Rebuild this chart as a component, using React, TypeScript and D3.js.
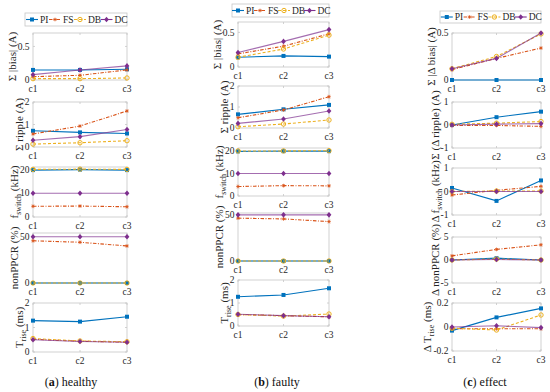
import * as d3 from "d3";

const cases = ["c1", "c2", "c3"];
const methods = ["PI", "FS", "DB", "DC"];

// rows: PI, FS, DB, DC
const healthyBias = [[0.15, 0.15, 0.16], [0.05, 0.07, 0.15], [0.02, 0.02, 0.03], [0.08, 0.15, 0.21]];
const healthyRipple = [[0.72, 0.65, 0.6], [0.58, 0.93, 1.6], [0.13, 0.19, 0.28], [0.3, 0.46, 0.78]];
const healthyFswitch = [[19.7, 19.9, 19.7], [4.5, 4.6, 4.3], [20, 20.1, 20], [10, 10, 10]];
const healthyNonPPCR = [[0, 0, 0], [45.6, 44, 40], [0, 0, 0], [50, 50, 50]];
const healthyTrise = [[1.28, 1.24, 1.44], [0.52, 0.44, 0.4], [0.55, 0.45, 0.42], [0.5, 0.43, 0.4]];

const faultyBias = [[0.14, 0.16, 0.15], [0.19, 0.3, 0.48], [0.14, 0.26, 0.46], [0.21, 0.37, 0.54]];
const faultyRipple = [[0.65, 0.89, 1.1], [0.49, 0.86, 1.49], [0.06, 0.19, 0.38], [0.22, 0.43, 0.81]];
const faultyFswitch = [[19.8, 19.9, 19.9], [4.2, 4.6, 4.5], [20, 20, 20.1], [10, 10, 10]];
const faultyNonPPCR = [[0, 0, 0], [46.4, 45.6, 42.7], [0, 0, 0], [50, 50, 50]];
const faultyTrise = [[1.27, 1.35, 1.64], [0.5, 0.45, 0.4], [0.5, 0.43, 0.52], [0.51, 0.45, 0.4]];

const effectBias = [[0, 0, 0], [0.11, 0.23, 0.34], [0.12, 0.25, 0.49], [0.12, 0.23, 0.5]];
const effectRipple = [[0, 0.34, 0.58], [-0.02, -0.02, -0.06], [0.03, 0.08, 0.15], [0, 0.04, 0.06]];
const effectFswitch = [[0.15, -0.4, 0.47], [-0.15, 0.05, 0.22], [0, 0.02, 0.02], [0, 0, 0]];
const effectNonPPCR = [[0, 0.4, 0], [0.9, 2.3, 3.3], [0, 0.2, 0], [0, 0.1, 0]];
const effectTrise = [[-0.03, 0.08, 0.155], [-0.015, -0.015, -0.015], [-0.01, -0.025, 0.1], [0, 0.01, -0.005]];

const biasTicks = [0, 0.5];
const rippleTicks = [0, 1, 2];
const fswitchTicks = [0, 10, 20];
const ppcrTicks = [0, 50];
const triseTicks = [0, 1, 2];
const unitTicks = [-1, 0, 1];
const dPpcrTicks = [-5, 0, 5];
const dTriseTicks = [-0.2, 0, 0.2];

const colors = ["#0072BD", "#D95319", "#EDB120", "#7E2F8E"];
const dashes = [undefined, "3.5 1.5 1 1.5", "3 2", undefined];
const FONT = "Liberation Serif, Times New Roman, DejaVu Serif, serif";
const BOX = "#c6c6c6";
const TXT = "#262626";
const TICK_FS = 9.5;
const LABEL_FS = 11;

type Seg = { t: string; sub?: boolean };

function textW(s: string, fs: number) {
  let w = 0;
  for (const ch of s) w += ch === "." ? 0.25 : ch === "-" ? 0.333 : 0.5;
  return w * fs;
}

function Marker({ k, x, y }: { k: number; x: number; y: number }) {
  const c = colors[k];
  if (k === 0) return <rect x={x - 2} y={y - 2} width={4} height={4} fill={c} />;
  if (k === 1)
    return (
      <g stroke={c} strokeWidth={0.8}>
        <line x1={x - 1.8} x2={x + 1.8} y1={y} y2={y} />
        <line x1={x} x2={x} y1={y - 1.8} y2={y + 1.8} />
        <line x1={x - 1.3} x2={x + 1.3} y1={y - 1.3} y2={y + 1.3} />
        <line x1={x - 1.3} x2={x + 1.3} y1={y + 1.3} y2={y - 1.3} />
      </g>
    );
  if (k === 2) return <circle cx={x} cy={y} r={2.2} fill="none" stroke={c} strokeWidth={1} />;
  return <path d={`M${x},${y - 2.8}L${x + 2.4},${y}L${x},${y + 2.8}L${x - 2.4},${y}Z`} fill={c} />;
}

function Label({ x, y, segs }: { x: number; y: number; segs: Seg[] }) {
  let shifted = false;
  return (
    <text transform={`translate(${x},${y}) rotate(-90)`} textAnchor="middle" fontSize={LABEL_FS} fill={TXT}>
      {segs.map((s, i) => {
        let dy = 0;
        if (s.sub && !shifted) { dy = 3; shifted = true; }
        else if (!s.sub && shifted) { dy = -3; shifted = false; }
        return (
          <tspan key={i} dy={dy} fontSize={s.sub ? 8 : LABEL_FS}>{s.t}</tspan>
        );
      })}
    </text>
  );
}

function Panel({ x0, x1, y0, y1, domain, ticks, data, label }: {
  x0: number; x1: number; y0: number; y1: number; domain: number[]; ticks: number[]; data: number[][]; label: Seg[];
}) {
  const x = d3.scalePoint<string>().domain(cases).range([x0, x1]);
  const y = d3.scaleLinear().domain(domain).range([y1, y0]);
  const line = d3.line<number>().x((_, i) => x(cases[i])!).y((d) => y(d));
  const tickW = d3.max(ticks, (t) => textW(String(t), TICK_FS)) || 0;
  return (
    <g>
      <rect x={x0} y={y0} width={x1 - x0} height={y1 - y0} fill="white" stroke={BOX} strokeWidth={0.8} />
      {ticks.map((t) => (
        <g key={t}>
          <line x1={x0} x2={x0 + 2} y1={y(t)} y2={y(t)} stroke={BOX} strokeWidth={0.8} />
          <line x1={x1} x2={x1 - 2} y1={y(t)} y2={y(t)} stroke={BOX} strokeWidth={0.8} />
          <text x={x0 - 3.5} y={y(t)} dy="0.33em" textAnchor="end" fontSize={TICK_FS} fill={TXT}>{String(t)}</text>
        </g>
      ))}
      {cases.map((c) => (
        <g key={c}>
          <line x1={x(c)} x2={x(c)} y1={y1} y2={y1 - 2} stroke={BOX} strokeWidth={0.8} />
          <line x1={x(c)} x2={x(c)} y1={y0} y2={y0 + 2} stroke={BOX} strokeWidth={0.8} />
          <text x={x(c)} y={y1 + 12} textAnchor="middle" fontSize={TICK_FS} fill={TXT}>{c}</text>
        </g>
      ))}
      {data.map((vals, k) => (
        <g key={k}>
          <path d={line(vals) || ""} fill="none" stroke={colors[k]} strokeWidth={1.1}
            strokeDasharray={dashes[k]} opacity={k === 3 ? 0.7 : 1} />
          {vals.map((v, i) => <Marker key={i} k={k} x={x(cases[i])!} y={y(v)} />)}
        </g>
      ))}
      <Label x={x0 - 3.5 - tickW - 2} y={(y0 + y1) / 2} segs={label} />
    </g>
  );
}

function Legend({ x0, x1, y0, y1 }: { x0: number; x1: number; y0: number; y1: number }) {
  const textWs = [8, 10, 11.5, 11.5];
  const widths = methods.map((_, k) => 12 + 2 + textWs[k]);
  const total = d3.sum(widths);
  const gap = (x1 - x0 - total) / (methods.length + 1);
  let cx = x0 + gap;
  const cy = (y0 + y1) / 2;
  return (
    <g>
      <rect x={x0} y={y0} width={x1 - x0} height={y1 - y0} fill="white" stroke={BOX} strokeWidth={0.8} />
      {methods.map((m, k) => {
        const sx = cx;
        cx += widths[k] + gap;
        return (
          <g key={m}>
            <line x1={sx} x2={sx + 12} y1={cy} y2={cy} stroke={colors[k]} strokeWidth={1.1} strokeDasharray={dashes[k]} />
            <Marker k={k} x={sx + 6} y={cy} />
            <text x={sx + 14} y={cy} dy="0.33em" fontSize={9.5} fill={TXT}>{m}</text>
          </g>
        );
      })}
    </g>
  );
}

const colA = [33, 127];
const colB = [238, 329];
const colC = [452, 541];
const rowsA = [[33, 80], [102, 147], [167, 217], [233, 283], [303, 352]];
const rowsB = [[22, 67], [86, 128], [148, 196], [213, 261], [280, 326]];
const rowsC = [[33, 80], [102, 148], [168, 215], [237, 283], [303, 351]];

const labF: Seg[] = [{ t: "f" }, { t: "switch", sub: true }, { t: " (kHz)" }];
const labT: Seg[] = [{ t: "T" }, { t: "rise", sub: true }, { t: " (ms)" }];

export default function App() {
  const specA = [
    { d: healthyBias, dom: [0, 0.7], t: biasTicks, l: [{ t: "Σ |bias| (A)" }] },
    { d: healthyRipple, dom: [0, 2], t: rippleTicks, l: [{ t: "Σ ripple (A)" }] },
    { d: healthyFswitch, dom: [0, 21], t: fswitchTicks, l: labF },
    { d: healthyNonPPCR, dom: [0, 54], t: ppcrTicks, l: [{ t: "nonPPCR (%)" }] },
    { d: healthyTrise, dom: [0, 2], t: triseTicks, l: labT },
  ];
  const specB = [
    { d: faultyBias, dom: [0, 0.65], t: biasTicks, l: [{ t: "Σ |bias| (A)" }] },
    { d: faultyRipple, dom: [0, 2], t: rippleTicks, l: [{ t: "Σ ripple (A)" }] },
    { d: faultyFswitch, dom: [0, 21.3], t: fswitchTicks, l: labF },
    { d: faultyNonPPCR, dom: [0, 52], t: ppcrTicks, l: [{ t: "nonPPCR (%)" }] },
    { d: faultyTrise, dom: [0, 2], t: triseTicks, l: labT },
  ];
  const specC = [
    { d: effectBias, dom: [0, 0.5], t: biasTicks, l: [{ t: "Σ |Δ bias| (A)" }] },
    { d: effectRipple, dom: [-1, 1], t: unitTicks, l: [{ t: "Σ (Δ ripple) (A)" }] },
    { d: effectFswitch, dom: [-1, 1], t: unitTicks, l: [{ t: "Δ f" }, { t: "switch", sub: true }, { t: " (kHz)" }] },
    { d: effectNonPPCR, dom: [-5, 5], t: dPpcrTicks, l: [{ t: "Δ nonPPCR (%)" }] },
    { d: effectTrise, dom: [-0.2, 0.2], t: dTriseTicks, l: [{ t: "Δ T" }, { t: "rise", sub: true }, { t: " (ms)" }] },
  ];
  const cols = [
    { c: colA, rows: rowsA, spec: specA, leg: [25, 127, 13, 26], cap: ["a", "healthy"], cx: 71 },
    { c: colB, rows: rowsB, spec: specB, leg: [232, 329, 4, 17], cap: ["b", "faulty"], cx: 277 },
    { c: colC, rows: rowsC, spec: specC, leg: [440, 541, 11, 23], cap: ["c", "effect"], cx: 485 },
  ];
  return (
    <div>
      <style>{`body{margin:0;background:#fff}`}</style>
      <svg width={550} height={392} style={{ display: "block", fontFamily: FONT }}>
        <rect width={550} height={392} fill="white" />
        {cols.map((col, ci) => (
          <g key={ci}>
            {col.spec.map((s, ri) => (
              <Panel key={ri} x0={col.c[0]} x1={col.c[1]} y0={col.rows[ri][0]} y1={col.rows[ri][1]}
                domain={s.dom} ticks={s.t} data={s.d} label={s.l as Seg[]} />
            ))}
            <Legend x0={col.leg[0]} x1={col.leg[1]} y0={col.leg[2]} y1={col.leg[3]} />
            <text x={col.cx} y={386} textAnchor="middle" fontSize={12} fill="#111">
              (<tspan fontWeight="bold">{col.cap[0]}</tspan>) {col.cap[1]}
            </text>
          </g>
        ))}
      </svg>
    </div>
  );
}
